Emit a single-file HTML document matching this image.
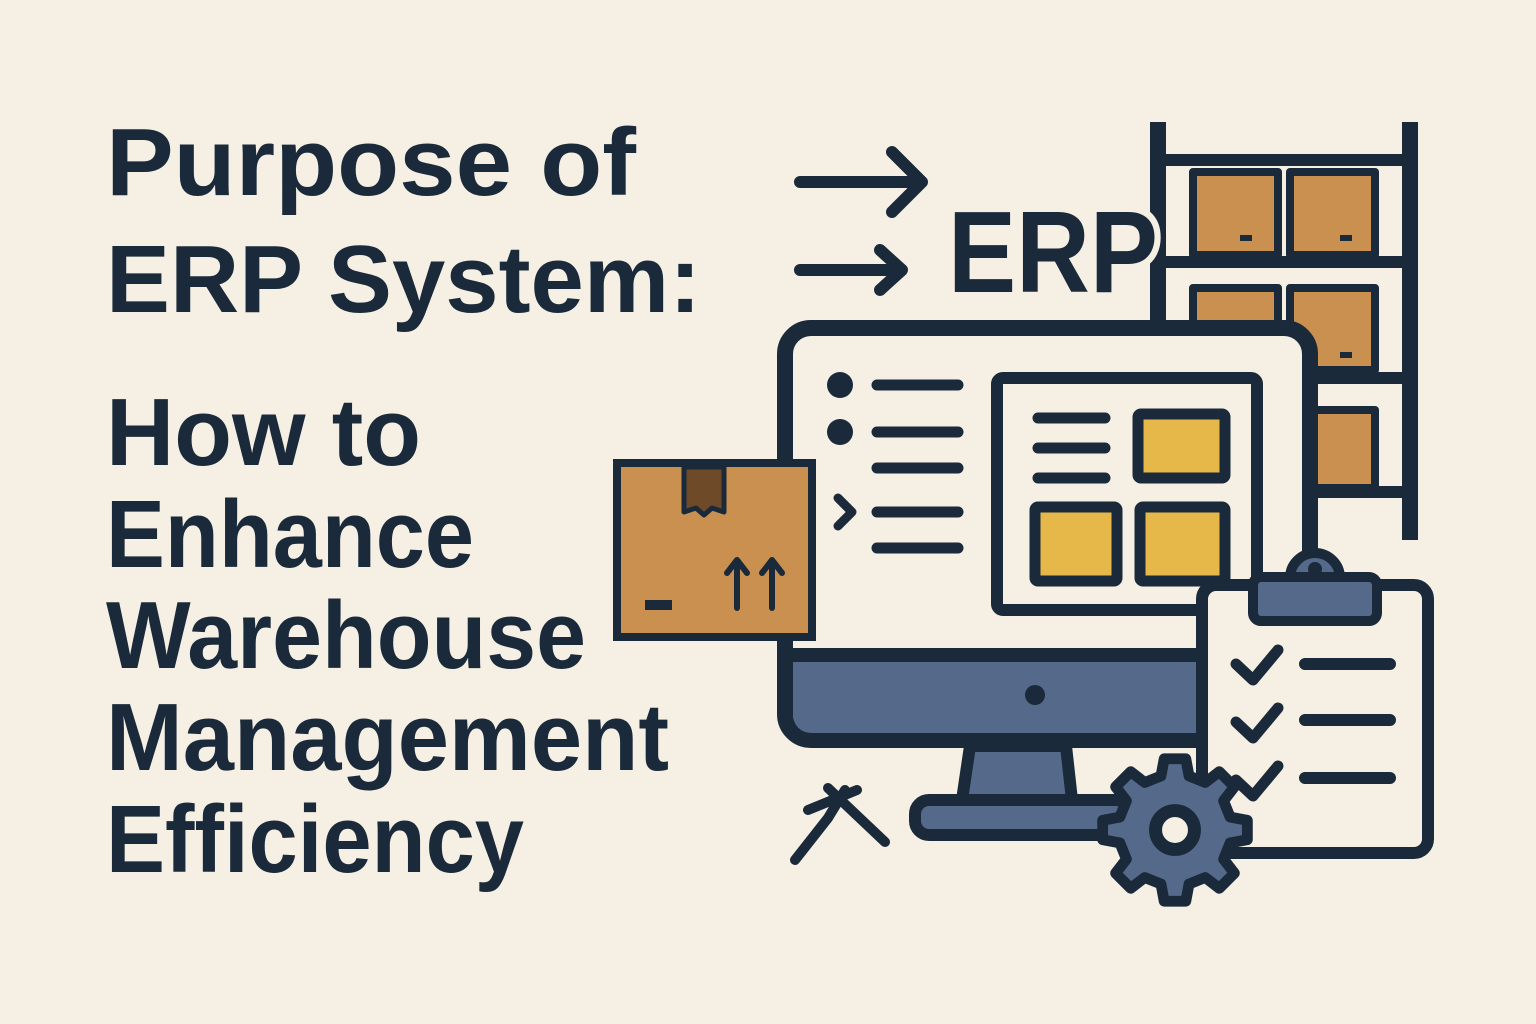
<!DOCTYPE html>
<html><head><style>html,body{margin:0;padding:0;background:#f5efe4}svg{display:block}</style></head>
<body>
<svg width="1536" height="1024" viewBox="0 0 1536 1024" xmlns="http://www.w3.org/2000/svg">
<rect width="1536" height="1024" fill="#f5efe4"/>
<g font-family="Liberation Sans, sans-serif" font-weight="bold" fill="#1b2a3a" font-size="96">
<text x="106" y="195" textLength="530" lengthAdjust="spacingAndGlyphs">Purpose of</text>
<text x="106" y="312" textLength="595" lengthAdjust="spacingAndGlyphs">ERP System:</text>
<text x="106" y="465" textLength="315" lengthAdjust="spacingAndGlyphs">How to</text>
<text x="106" y="567" textLength="368" lengthAdjust="spacingAndGlyphs">Enhance</text>
<text x="106" y="668" textLength="480" lengthAdjust="spacingAndGlyphs">Warehouse</text>
<text x="106" y="770" textLength="563" lengthAdjust="spacingAndGlyphs">Management</text>
<text x="106" y="872" textLength="418" lengthAdjust="spacingAndGlyphs">Efficiency</text>
</g>
<g stroke="#1b2a3a" stroke-linecap="round" stroke-linejoin="round" fill="none">
<path d="M800 182H920M892 152L922 182L892 212" stroke-width="12"/>
<path d="M800 270H900M880 250L902 270L880 290" stroke-width="12"/>
<path d="M1158 122V540M1410 122V540" stroke-width="16" stroke-linecap="butt"/>
<path d="M1158 160H1410M1158 262H1410M1158 378H1410M1158 492H1410" stroke-width="12" stroke-linecap="butt"/>
<g fill="#c9904f" stroke-width="8">
<rect x="1193" y="172" width="85" height="83"/><rect x="1290" y="172" width="85" height="83"/>
<rect x="1193" y="288" width="85" height="82"/><rect x="1290" y="288" width="85" height="82"/>
<rect x="1290" y="410" width="85" height="78"/>
</g>
</g>
<path d="M1240 238h12M1340 238h12M1340 355h12" stroke="#1b2a3a" stroke-width="6"/>
<text x="948" y="292" font-family="Liberation Sans, sans-serif" font-weight="bold" font-size="116" fill="#1b2a3a" stroke="#f5efe4" stroke-width="14" paint-order="stroke" textLength="210" lengthAdjust="spacingAndGlyphs">ERP</text>
<g stroke="#1b2a3a" stroke-linecap="round" stroke-linejoin="round">
<rect x="785" y="328" width="525" height="412" rx="26" fill="#f5efe4" stroke-width="16"/>
<path d="M793 660H1302V715a18 18 0 0 1 -18 18H811a18 18 0 0 1 -18 -18Z" fill="#55698a" stroke-width="0"/>
<path d="M790 655H1305" stroke-width="14"/>
<circle cx="1035" cy="695" r="10" fill="#1b2a3a" stroke="none"/>
<path d="M934 746L926 800H1036L1030 746Z" transform="translate(36,0)" fill="#55698a" stroke-width="12"/>
<rect x="915" y="800" width="215" height="35" rx="14" fill="#55698a" stroke-width="12"/>
<rect x="997" y="378" width="260" height="232" rx="6" fill="#f5efe4" stroke-width="12"/>
<path d="M1038 418H1105M1038 448H1105M1038 478H1105" stroke-width="11"/>
<g fill="#e6b84a" stroke-width="11">
<rect x="1138" y="414" width="87" height="64" rx="3"/>
<rect x="1035" y="507" width="82" height="74" rx="3"/>
<rect x="1140" y="507" width="85" height="74" rx="3"/>
</g>
<circle cx="840" cy="385" r="13" fill="#1b2a3a" stroke="none"/>
<circle cx="840" cy="432" r="13" fill="#1b2a3a" stroke="none"/>
<path d="M877 385H958M877 432H958M877 468H958M877 512H958M877 548H958" stroke-width="11"/>
<path d="M838 498L852 512L838 526" stroke-width="9" fill="none"/>
<rect x="617" y="463" width="195" height="174" fill="#c9904f" stroke-width="8" stroke-linejoin="miter"/>
<path d="M684 467V512L696 508L704 515L712 508L724 512V467Z" fill="#6e4a28" stroke-width="5"/>
<path d="M737 608V560M727 573L737 560L747 573M772 608V560M762 573L772 560L782 573" stroke-width="6" fill="none"/>
<path d="M645 605H672" stroke-width="10" stroke-linecap="butt"/>
<path d="M795 860L828 818L845 790M828 788L885 842M808 810L857 790" stroke-width="10" fill="none"/>
<rect x="1202" y="585" width="226" height="268" rx="14" fill="#f5efe4" stroke-width="12"/>
<path d="M1290 578a25 25 0 0 1 50 0" fill="#55698a" stroke-width="10"/>
<rect x="1253" y="577" width="124" height="44" rx="8" fill="#55698a" stroke-width="10"/>
<circle cx="1315" cy="569" r="7" fill="#1b2a3a" stroke="none"/>
<path d="M1236 664L1253 680L1278 650M1236 722L1253 738L1278 708M1236 780L1253 796L1278 766" stroke-width="11" fill="none"/>
<path d="M1305 664H1390M1305 720H1390M1305 778H1390" stroke-width="12"/>
<g transform="translate(1175,830) scale(1.08)">
<path d="M-10 -58H10L13 -42L28 -36L41 -46L55 -32L45 -19L51 -4L67 -1V17L51 20L45 35L55 48L41 62L28 52L13 58L10 74H-10L-13 58L-28 52L-41 62L-55 48L-45 35L-51 20L-67 17V-1L-51 -4L-45 -19L-55 -32L-41 -46L-28 -36L-13 -42Z" transform="translate(0,-8)" fill="#55698a" stroke-width="10"/>
<circle cx="0" cy="0" r="18" fill="#f5efe4" stroke-width="12"/>
</g>
</g>
</svg>
</body></html>
